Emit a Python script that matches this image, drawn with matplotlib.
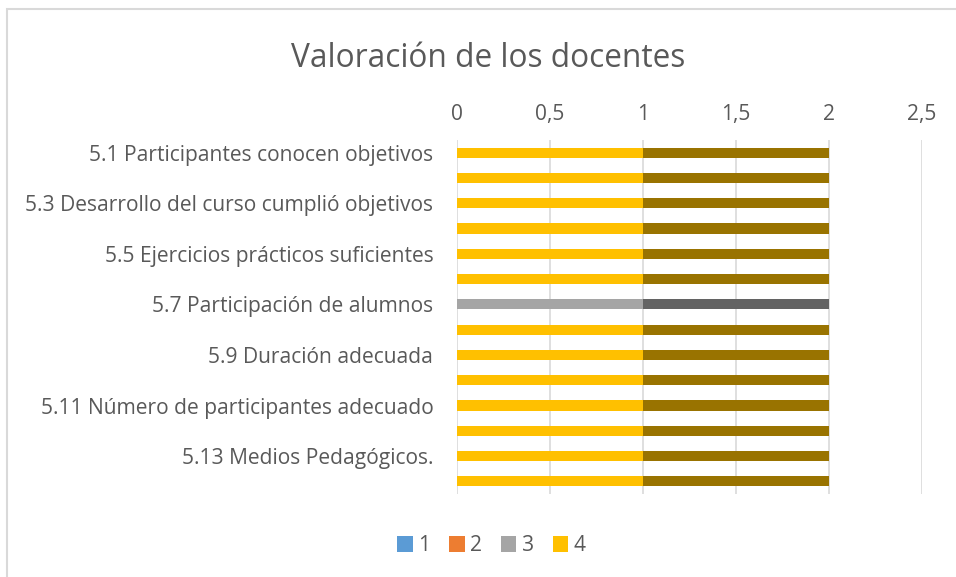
import numpy as np
import matplotlib
matplotlib.use("Agg")
import matplotlib.pyplot as plt
from matplotlib.patches import Rectangle
from matplotlib.ticker import FuncFormatter

plt.rcParams['font.family'] = ['Open Sans', 'DejaVu Sans']

# data
items = ['5.1 Participantes conocen objetivos', '5.2', '5.3 Desarrollo del curso cumplió objetivos', '5.4',
         '5.5 Ejercicios prácticos suficientes', '5.6', '5.7 Participación de alumnos', '5.8',
         '5.9 Duración adecuada', '5.10', '5.11 Número de participantes adecuado', '5.12',
         '5.13 Medios Pedagógicos.', '5.14']
labels = [t if i % 2 == 0 else '' for i, t in enumerate(items)]
s1 = [0] * 14
s2 = [0] * 14
s3 = [0, 0, 0, 0, 0, 0, 1, 0, 0, 0, 0, 0, 0, 0]
s4 = [1, 1, 1, 1, 1, 1, 0, 1, 1, 1, 1, 1, 1, 1]
s3_dark = [0, 0, 0, 0, 0, 0, 1, 0, 0, 0, 0, 0, 0, 0]
s4_dark = [1, 1, 1, 1, 1, 1, 0, 1, 1, 1, 1, 1, 1, 1]

series = [('1', s1, '#5B9BD5'), ('2', s2, '#ED7D31'), ('3', s3, '#A5A5A5'), ('4', s4, '#FFC000'),
          ('_9', s3_dark, '#636363'), ('_10', s4_dark, '#997300')]

fig = plt.figure(figsize=(9.56, 5.77), dpi=100)
ax = fig.add_axes([0.478, 0.1438, 0.4864, 0.6135])

y = np.arange(len(items))
left = np.zeros(len(items))
for name, vals, col in series:
    vals = np.array(vals, dtype=float)
    ax.barh(y, vals, left=left, height=0.4, color=col, label=name, zorder=3)
    left += vals

ax.set_ylim(len(items) - 0.5, -0.5)
ax.set_xlim(0, 2.5)
ax.set_xticks(np.arange(0, 2.51, 0.5))
ax.xaxis.set_major_formatter(FuncFormatter(lambda v, p: ('%g' % v).replace('.', ',')))
ax.xaxis.tick_top()
ax.set_yticks(y)
ax.set_yticklabels(labels)
ax.tick_params(axis='both', length=0, labelsize=15.1, colors='#595959')
ax.tick_params(axis='y', pad=17)
ax.tick_params(axis='x', pad=11)
for s in ax.spines.values():
    s.set_visible(False)
ax.grid(axis='x', color='#D9D9D9', linewidth=1.2, zorder=0)

fig.text(0.511, 0.898, 'Valoración de los docentes', ha='center', va='center', fontsize=22.8, color='#595959')

handles, lbls = ax.get_legend_handles_labels()
fig.legend(handles[:4], lbls[:4], loc='center', bbox_to_anchor=(0.514, 0.054), ncol=4, frameon=False,
           fontsize=15.1, labelcolor='#595959', handlelength=0.75, handleheight=0.75, handletextpad=0.25,
           columnspacing=0.9)

fig.patches.append(Rectangle((7 / 956, -0.1), 1.2, 1 - 9 / 577 + 0.1, transform=fig.transFigure,
                             fill=False, edgecolor='#D9D9D9', linewidth=1.5))

fig.savefig('out.png', dpi=100)
